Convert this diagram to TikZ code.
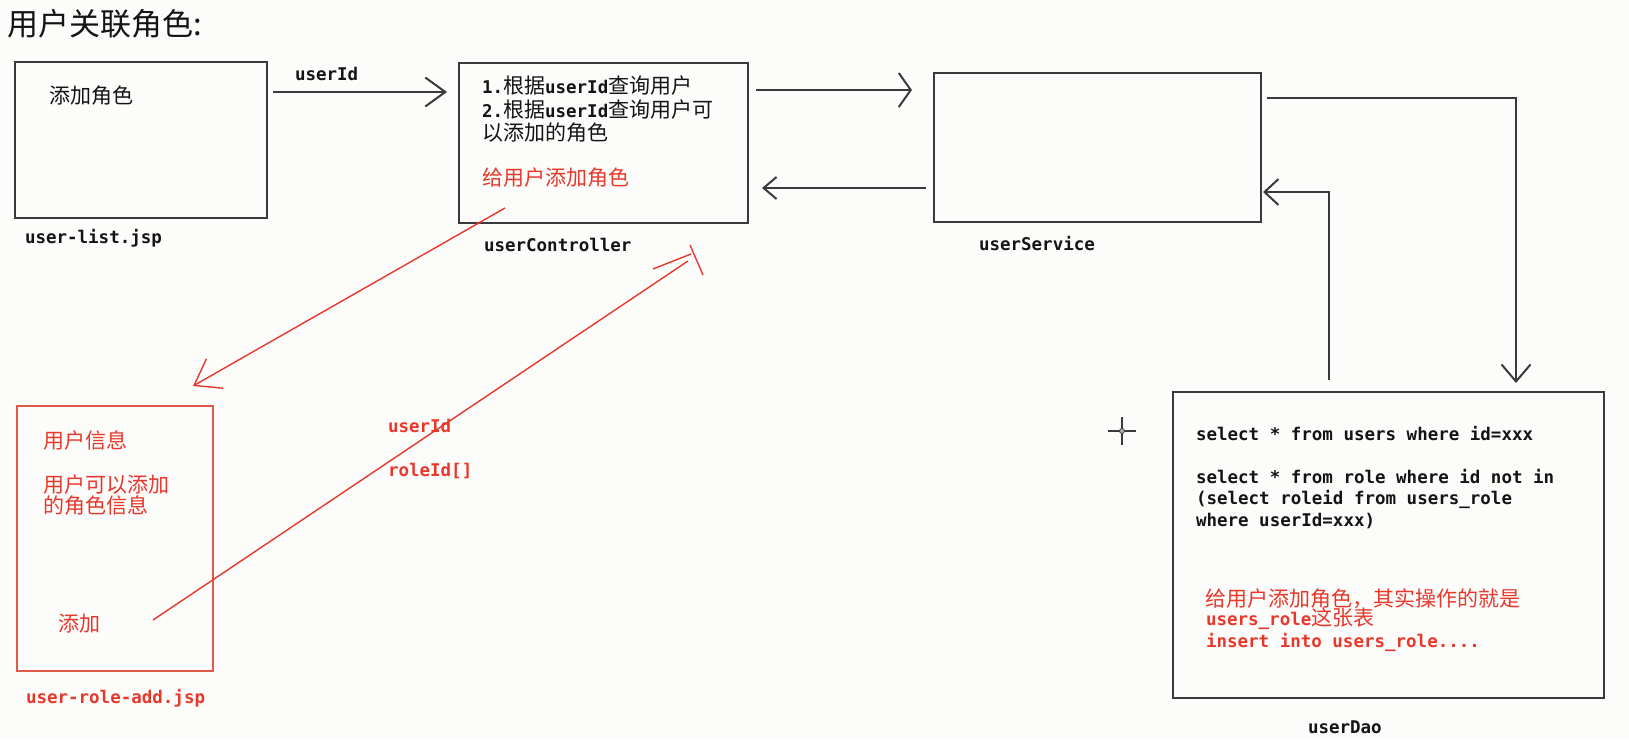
\documentclass[tikz,border=0pt]{standalone}
\usepackage{fontspec}
\setmainfont{Noto Sans CJK SC}
\newfontfamily\monofam{DejaVu Sans Mono}
\usetikzlibrary{arrows.meta}
\definecolor{ink}{HTML}{141414}
\definecolor{linec}{HTML}{3A3A3A}
\definecolor{redc}{HTML}{E8382C}
\definecolor{rboxc}{HTML}{E05A4C}
\definecolor{bgc}{HTML}{FCFCFA}
\newcommand\mt[1]{{\monofam\bfseries\fontsize{17.5}{20}\selectfont #1}}
\newcommand\cjksize{\fontsize{21}{23}\selectfont}
\begin{document}
\begin{tikzpicture}[x=1pt,y=-1pt,
  boxb/.style={draw=linec,line width=2pt,inner sep=0pt},
  boxr/.style={draw=rboxc,line width=1.6pt,inner sep=0pt},
  txt/.style={anchor=base west,inner sep=0pt,outer sep=0pt,text=ink,font=\cjksize},
  redtxt/.style={txt,text=redc},
  conn/.style={draw=linec,line width=2pt},
  rconn/.style={draw=redc,line width=1.4pt}]
\fill[bgc] (0,0) rectangle (1629,739);
\useasboundingbox (0,0) rectangle (1629,739);

% title
\node[txt,font=\fontsize{31}{34}\selectfont] (title) at (7,35) {用户关联角色:};

% boxes
\node[boxb,minimum width=252pt,minimum height=156pt] (ulist) at (141,140) {};
\node[boxb,minimum width=289pt,minimum height=160pt] (uctrl) at (603.5,143) {};
\node[boxb,minimum width=327pt,minimum height=149pt] (usvc) at (1097.5,147.5) {};
\node[boxb,minimum width=431pt,minimum height=306pt] (udao) at (1388.5,545) {};
\node[boxr,minimum width=196pt,minimum height=265pt] (uadd) at (115,538.5) {};

% texts in user-list
\node[txt] (t1) at (49,103) {添加角色};
\node[txt] (l1) at (25,243) {\mt{user-list.jsp}};

% userController texts
\node[txt] (c1) at (482,93) {\mt{1.}根据\mt{userId}查询用户};
\node[txt] (c2) at (482,117) {\mt{2.}根据\mt{userId}查询用户可};
\node[txt] (c3) at (482,140) {以添加的角色};
\node[redtxt] (c4) at (482,185) {给用户添加角色};
\node[txt] (l2) at (484,251) {\mt{userController}};

% userService
\node[txt] (l3) at (979,250) {\mt{userService}};

% userDao texts
\node[txt] (d1) at (1196,440) {\mt{select * from users where id=xxx}};
\node[txt] (d2) at (1196,483) {\mt{select * from role where id not in}};
\node[txt] (d3) at (1196,504) {\mt{(select roleid from users\_role}};
\node[txt] (d4) at (1196,526) {\mt{where userId=xxx)}};
\node[redtxt] (d5) at (1205,606) {给用户添加角色，其实操作的就是};
\node[redtxt] (d6) at (1206,625) {\mt{users\_role}这张表};
\node[redtxt] (d7) at (1206,647) {\mt{insert into users\_role....}};
\node[txt] (l4) at (1308,733) {\mt{userDao}};

% user-role-add texts
\node[redtxt] (r1) at (43,448) {用户信息};
\node[redtxt] (r2) at (43,492) {用户可以添加};
\node[redtxt] (r3) at (43,513) {的角色信息};
\node[redtxt] (r4) at (58,631) {添加};
\node[redtxt] (l5) at (26,703) {\mt{user-role-add.jsp}};

% red labels
\node[redtxt] (p1) at (388,432) {\mt{userId}};
\node[redtxt] (p2) at (388,476) {\mt{roleId[]}};

% top label
\node[txt] (u1) at (295,80) {\mt{userId}};

% connector end points
\coordinate (a1s) at (273,92);   \coordinate (a1e) at (447,92);
\coordinate (a2s) at (756,90);   \coordinate (a2e) at (912,90);
\coordinate (a3s) at (926,188);  \coordinate (a3e) at (762,188);
\coordinate (a4s) at (1267,98);  \coordinate (a4e) at (1516,383);
\coordinate (a5s) at (1329,380); \coordinate (a5e) at (1263,192);
\coordinate (r1s) at (505,208);  \coordinate (r1e) at (193,386);
\coordinate (r2s) at (153,620);  \coordinate (r2e) at (688,261);

% black connectors
\draw[conn,-{Straight Barb[length=20pt,width=29pt]}] (a1s) -- (a1e);
\draw[conn,-{Straight Barb[length=12pt,width=34pt]}] (a2s) -- (a2e);
\draw[conn,-{Straight Barb[length=13pt,width=22pt]}] (a3s) -- (a3e);
\draw[conn,-{Straight Barb[length=17pt,width=29pt]}] (a4s) -| (a4e);
\draw[conn,-{Straight Barb[length=14pt,width=26pt]}] (a5s) |- (a5e);

% red connectors
\draw[rconn,-{Straight Barb[length=24pt,width=34pt]}] (r1s) -- (r1e);
\draw[rconn] (r2s) -- (r2e);
\draw[rconn] ([shift={(-35,8)}]r2e) -- ([shift={(3,-7)}]r2e);
\draw[rconn] ([shift={(2,-16)}]r2e) -- ([shift={(15,14)}]r2e);

% cursor crosshair
\coordinate (cur) at (1122,431);
\draw[draw=linec,line width=1.5pt] ([shift={(-14,0)}]cur) -- ([shift={(14,0)}]cur);
\draw[draw=linec,line width=1.5pt] ([shift={(0,-14)}]cur) -- ([shift={(0,14)}]cur);
\draw[draw=linec,fill=gray!60,line width=0.8pt] (cur) circle (2.5pt);
\end{tikzpicture}
\end{document}
